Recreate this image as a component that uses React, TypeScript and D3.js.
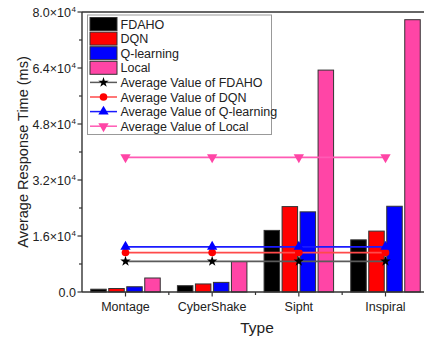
import React from "react";
import * as d3 from "d3";

const categories = ["Montage", "CyberShake", "Sipht", "Inspiral"];
const seriesNames = ["FDAHO", "DQN", "Q-learning", "Local"];
const fdaho = [800, 1800, 17600, 14900];
const dqn = [1000, 2300, 24400, 17400];
const qlearning = [1500, 2750, 22900, 24500];
const local = [4000, 8700, 63400, 77800];
const yTicks = [0, 16000, 32000, 48000, 64000, 80000];
const yTickLabels = ["0.0", "1.6×10", "3.2×10", "4.8×10", "6.4×10", "8.0×10"];

const seriesValues = [fdaho, dqn, qlearning, local];
const barColors = ["#000000", "#ff0000", "#0000ff", "#ff45a6"];
const lineColors = ["#5a5a5a", "#ff4a4a", "#1a1aff", "#ff5ab4"];
const symbolTypes = [d3.symbolStar, d3.symbolCircle, d3.symbolTriangle, d3.symbolTriangle];
const symbolSizes = [34, 46, 46, 46];

const W = 424;
const H = 339;
const left = 82;
const right = 429;
const top = 12;
const bottom = 292;
const font = "'Liberation Sans', Arial, sans-serif";

export default function App() {
  const x = d3.scalePoint<string>().domain(categories).range([left + 43.5, right - 43.5]);
  const step = x.step();
  const y = d3.scaleLinear().domain([0, 80000]).range([bottom, top]);
  const barStep = 18;
  const barW = 15.5;
  const minorY = d3.range(8000, 80000, 16000);
  const minorX = categories.slice(0, -1).map((c) => (x(c) as number) + step / 2);
  const averages = seriesValues.map((s) => d3.mean(s) as number);

  const marker = (i: number, cx: number, cy: number, key: string) => {
    const path = d3.symbol().type(symbolTypes[i]).size(symbolSizes[i])() as string;
    const rot = i === 3 ? 180 : 0;
    return (
      <path
        key={key}
        d={path}
        transform={`translate(${cx},${cy}) rotate(${rot})`}
        fill={i === 0 ? "#000" : barColors[i]}
      />
    );
  };

  const legendX = 87.5;
  const legendY = 15;
  const rowH = 14.6;
  const legendRows = [
    ...seriesNames.map((n, i) => ({ kind: "bar", i, label: n })),
    ...seriesNames.map((n, i) => ({ kind: "line", i, label: `Average Value of ${n}` })),
  ];

  return (
    <svg
      width={W}
      height={H}
      style={{ position: "absolute", left: 0, top: 0, background: "#fff" }}
      fontFamily={font}
    >
      {/* bars */}
      {categories.map((c, ci) =>
        seriesValues.map((s, si) => {
          const cx = (x(c) as number) + (si - 1.5) * barStep;
          return (
            <rect
              key={`b${ci}-${si}`}
              x={cx - barW / 2}
              y={y(s[ci])}
              width={barW}
              height={bottom - y(s[ci])}
              fill={barColors[si]}
              stroke="#333"
              strokeWidth={1}
            />
          );
        })
      )}

      {/* average lines */}
      {averages.map((a, i) => (
        <g key={`avg${i}`}>
          <line
            x1={x(categories[0])}
            x2={x(categories[categories.length - 1])}
            y1={y(a)}
            y2={y(a)}
            stroke={lineColors[i]}
            strokeWidth={1.8}
          />
          {categories.map((c) => marker(i, x(c) as number, y(a), `m${i}-${c}`))}
        </g>
      ))}

      {/* axes */}
      <line x1={left} x2={left} y1={top} y2={bottom} stroke="#333" strokeWidth={1.4} />
      <line x1={left} x2={W} y1={bottom} y2={bottom} stroke="#333" strokeWidth={1.4} />
      <line x1={left} x2={W} y1={top} y2={top} stroke="#333" strokeWidth={1.4} />

      {yTicks.map((t, i) => (
        <g key={`yt${i}`}>
          <line x1={left - 4.5} x2={left} y1={y(t)} y2={y(t)} stroke="#333" strokeWidth={1.2} />
          <text x={i === 0 ? 76 : 71} y={y(t) + 4.5} fontSize={12.5} textAnchor="end" fill="#222">
            {yTickLabels[i]}
          </text>
          {i > 0 && (
            <text x={71.5} y={y(t) - 0.5} fontSize={8} textAnchor="start" fill="#222">
              4
            </text>
          )}
        </g>
      ))}
      {minorY.map((t) => (
        <line key={`ym${t}`} x1={left - 3} x2={left} y1={y(t)} y2={y(t)} stroke="#333" strokeWidth={1.2} />
      ))}

      {categories.map((c) => (
        <g key={`xt${c}`}>
          <line x1={x(c)} x2={x(c)} y1={bottom} y2={bottom + 4.5} stroke="#333" strokeWidth={1.2} />
          <text x={x(c)} y={bottom + 19} fontSize={12.5} textAnchor="middle" fill="#222">
            {c}
          </text>
        </g>
      ))}
      {minorX.map((mx, i) => (
        <line key={`xm${i}`} x1={mx} x2={mx} y1={bottom} y2={bottom + 3} stroke="#333" strokeWidth={1.2} />
      ))}

      {/* axis titles */}
      <text
        transform={`translate(28,${(top + bottom) / 2}) rotate(-90)`}
        fontSize={14.5}
        textAnchor="middle"
        fill="#222"
      >
        Average Response Time (ms)
      </text>
      <text x={257} y={333} fontSize={15.5} textAnchor="middle" fill="#222">
        Type
      </text>

      {/* legend */}
      <rect x={legendX} y={legendY} width={184} height={119.5} fill="#fff" stroke="#999" strokeWidth={1} />
      {legendRows.map((r, k) => {
        const cy = legendY + 9 + k * rowH;
        return (
          <g key={`lg${k}`}>
            {r.kind === "bar" ? (
              <rect x={legendX + 2.5} y={cy - 6.5} width={27} height={13} fill={barColors[r.i]} stroke="#333" strokeWidth={1} />
            ) : (
              <>
                <line x1={legendX + 2.5} x2={legendX + 29.5} y1={cy} y2={cy} stroke={lineColors[r.i]} strokeWidth={1.5} />
                {marker(r.i, legendX + 16, cy, `lm${k}`)}
              </>
            )}
            <text x={legendX + 33} y={cy + 4.5} fontSize={12.5} fill="#222">
              {r.label}
            </text>
          </g>
        );
      })}
    </svg>
  );
}
